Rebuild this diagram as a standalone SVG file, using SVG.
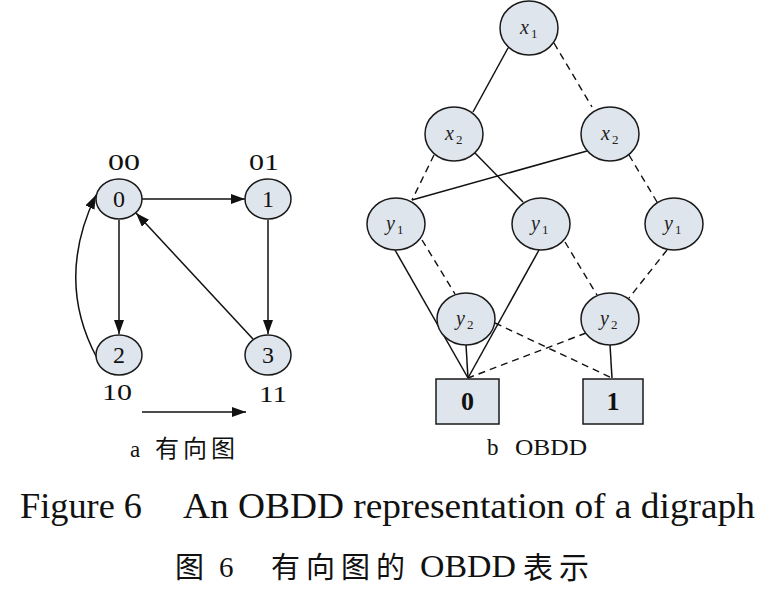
<svg xmlns="http://www.w3.org/2000/svg" width="783" height="598" viewBox="0 0 783 598">
<style>
.nd{fill:#dfe5ec;stroke:#1a1a1a;stroke-width:1.5}
.ln{stroke:#111;stroke-width:1.5;fill:none}
.ds{stroke:#111;stroke-width:1.4;fill:none;stroke-dasharray:7,5}
.t{font-family:"Liberation Serif","Noto Sans CJK SC",serif;fill:#111}
.it{font-family:"Liberation Serif",serif;font-style:italic;fill:#222}
.sb{font-family:"Liberation Serif",serif;fill:#222}
</style>
<defs>
<marker id="ah" viewBox="0 0 14 10" refX="14" refY="5" markerWidth="14" markerHeight="10" markerUnits="userSpaceOnUse" orient="auto">
<path d="M0,0 L14,5 L0,10 z" fill="#111"/>
</marker>
</defs>
<rect width="783" height="598" fill="#fff"/>

<g id="connectors">
<line class="ln" x1="142" y1="199" x2="245" y2="199" marker-end="url(#ah)"/>
<line class="ln" x1="268" y1="220" x2="268" y2="334" marker-end="url(#ah)"/>
<line class="ln" x1="119" y1="220" x2="119" y2="334" marker-end="url(#ah)"/>
<line class="ln" x1="253" y1="339" x2="136" y2="213" marker-end="url(#ah)"/>
<path class="ln" d="M97,358 Q55,280 96,195" marker-end="url(#ah)"/>
<line class="ln" x1="142" y1="412" x2="246" y2="412" marker-end="url(#ah)"/>

<line class="ln" x1="508" y1="48" x2="473" y2="112"/>
<line class="ds" x1="554" y1="43" x2="592" y2="107"/>
<line class="ds" x1="434" y1="155" x2="412" y2="200"/>
<line class="ln" x1="474" y1="152" x2="523" y2="202"/>
<line class="ln" x1="587" y1="151" x2="412" y2="200"/>
<line class="ds" x1="629" y1="155" x2="657" y2="202"/>
<line class="ln" x1="395" y1="250" x2="468" y2="378"/>
<line class="ds" x1="422" y1="240" x2="455" y2="294"/>
<line class="ln" x1="466" y1="345" x2="468" y2="378"/>
<line class="ln" x1="539" y1="250" x2="468" y2="378"/>
<line class="ds" x1="565" y1="242" x2="597" y2="295"/>
<line class="ds" x1="667" y1="250" x2="629" y2="298"/>
<line class="ds" x1="495" y1="323" x2="612" y2="378"/>
<line class="ds" x1="586" y1="333" x2="468" y2="378"/>
<line class="ln" x1="610" y1="345" x2="612" y2="378"/>
</g>

<g id="n0"><ellipse class="nd" cx="119" cy="199" rx="23" ry="20"/><text class="t" x="119" y="207" font-size="24" text-anchor="middle">0</text></g>
<g id="n1"><ellipse class="nd" cx="268" cy="199" rx="23" ry="20"/><text class="t" x="268" y="207" font-size="24" text-anchor="middle">1</text></g>
<g id="n2"><ellipse class="nd" cx="119" cy="355" rx="23" ry="20"/><text class="t" x="119" y="363" font-size="24" text-anchor="middle">2</text></g>
<g id="n3"><ellipse class="nd" cx="268" cy="355" rx="23" ry="20"/><text class="t" x="268" y="363" font-size="24" text-anchor="middle">3</text></g>
<g id="lbl00"><text class="t" x="108" y="170" font-size="23" textLength="32" lengthAdjust="spacingAndGlyphs">00</text></g>
<g id="lbl01"><text class="t" x="249" y="170" font-size="23" textLength="30" lengthAdjust="spacingAndGlyphs">01</text></g>
<g id="lbl10"><text class="t" x="102" y="400" font-size="23" textLength="30" lengthAdjust="spacingAndGlyphs">10</text></g>
<g id="lbl11"><text class="t" x="259" y="402" font-size="23" textLength="28" lengthAdjust="spacingAndGlyphs">11</text></g>

<g id="x1"><ellipse class="nd" cx="529" cy="28" rx="29" ry="27"/><text x="520" y="34" class="it" font-size="20">x</text><text x="531" y="38" class="sb" font-size="13">1</text></g>
<g id="x2a"><ellipse class="nd" cx="454" cy="134" rx="29" ry="27"/><text x="445" y="140" class="it" font-size="20">x</text><text x="456" y="144" class="sb" font-size="13">2</text></g>
<g id="x2b"><ellipse class="nd" cx="610" cy="134" rx="29" ry="27"/><text x="601" y="140" class="it" font-size="20">x</text><text x="612" y="144" class="sb" font-size="13">2</text></g>
<g id="y1a"><ellipse class="nd" cx="396" cy="224" rx="29" ry="26"/><text x="386" y="230" class="it" font-size="20">y</text><text x="397" y="234" class="sb" font-size="13">1</text></g>
<g id="y1b"><ellipse class="nd" cx="541" cy="224" rx="29" ry="26"/><text x="531" y="230" class="it" font-size="20">y</text><text x="542" y="234" class="sb" font-size="13">1</text></g>
<g id="y1c"><ellipse class="nd" cx="674" cy="224" rx="29" ry="26"/><text x="664" y="230" class="it" font-size="20">y</text><text x="675" y="234" class="sb" font-size="13">1</text></g>
<g id="y2a"><ellipse class="nd" cx="466" cy="319" rx="29" ry="26"/><text x="456" y="325" class="it" font-size="20">y</text><text x="467" y="329" class="sb" font-size="13">2</text></g>
<g id="y2b"><ellipse class="nd" cx="610" cy="319" rx="29" ry="26"/><text x="600" y="325" class="it" font-size="20">y</text><text x="611" y="329" class="sb" font-size="13">2</text></g>
<g id="t0"><rect class="nd" x="436" y="379" width="63" height="45"/><text class="t" x="467.5" y="410" font-size="26" font-weight="bold" text-anchor="middle">0</text></g>
<g id="t1"><rect class="nd" x="583" y="379" width="60" height="45"/><text class="t" x="613" y="410" font-size="26" font-weight="bold" text-anchor="middle">1</text></g>

<g id="captions">
<text class="t" x="130" y="457" font-size="23">a</text>
<text class="t" x="155" y="457" font-size="24" letter-spacing="4">有向图</text>
<text class="t" x="487" y="455" font-size="23">b</text>
<text class="t" x="515" y="455" font-size="23" textLength="72" lengthAdjust="spacingAndGlyphs">OBDD</text>
<text class="t" x="20" y="518" font-size="35" textLength="122" lengthAdjust="spacingAndGlyphs">Figure 6</text>
<text class="t" x="183" y="518" font-size="35" textLength="572" lengthAdjust="spacingAndGlyphs">An OBDD representation of a digraph</text>
<text class="t" x="175" y="578" font-size="29">图</text>
<text class="t" x="219" y="577" font-size="29">6</text>
<text class="t" x="271" y="578" font-size="29" letter-spacing="6">有向图的</text>
<text class="t" x="420" y="577" font-size="31" textLength="96" lengthAdjust="spacingAndGlyphs">OBDD</text>
<text class="t" x="523" y="578" font-size="30" letter-spacing="6">表示</text>
</g>
</svg>
